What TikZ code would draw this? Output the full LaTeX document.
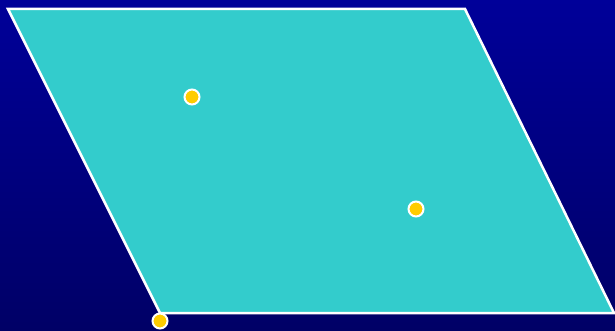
\documentclass[tikz,border=0pt]{standalone}
\usetikzlibrary{positioning}
\definecolor{bgtop}{HTML}{000099}
\definecolor{bgbottom}{HTML}{000066}
\definecolor{plane}{HTML}{33CCCC}
\definecolor{point}{HTML}{FFCC00}
\tikzset{
  planeedge/.style={draw=white, line width=2.5pt, fill=plane, line join=miter},
  latticept/.style={circle, fill=point, draw=white, line width=2pt, inner sep=0pt, minimum size=15pt}
}

\begin{document}
\begin{tikzpicture}[x=1pt, y=-1pt]
    \useasboundingbox (0,0) rectangle (615,331);
    \shade[top color=bgtop, bottom color=bgbottom] (0,0) rectangle (615,331);

    \coordinate (tl) at (8,9);
    \coordinate (tr) at (465,9);
    \coordinate (br) at (614,313);
    \coordinate (bl) at (160,313);
    \draw[planeedge] (tl) -- (tr) -- (br) -- (bl) -- cycle;

    \node[latticept] (p1) at (192,97) {};
    \node[latticept] (p2) at (416,209) {};
    \node[latticept] (p3) at (160,321) {};
\end{tikzpicture}
\end{document}
